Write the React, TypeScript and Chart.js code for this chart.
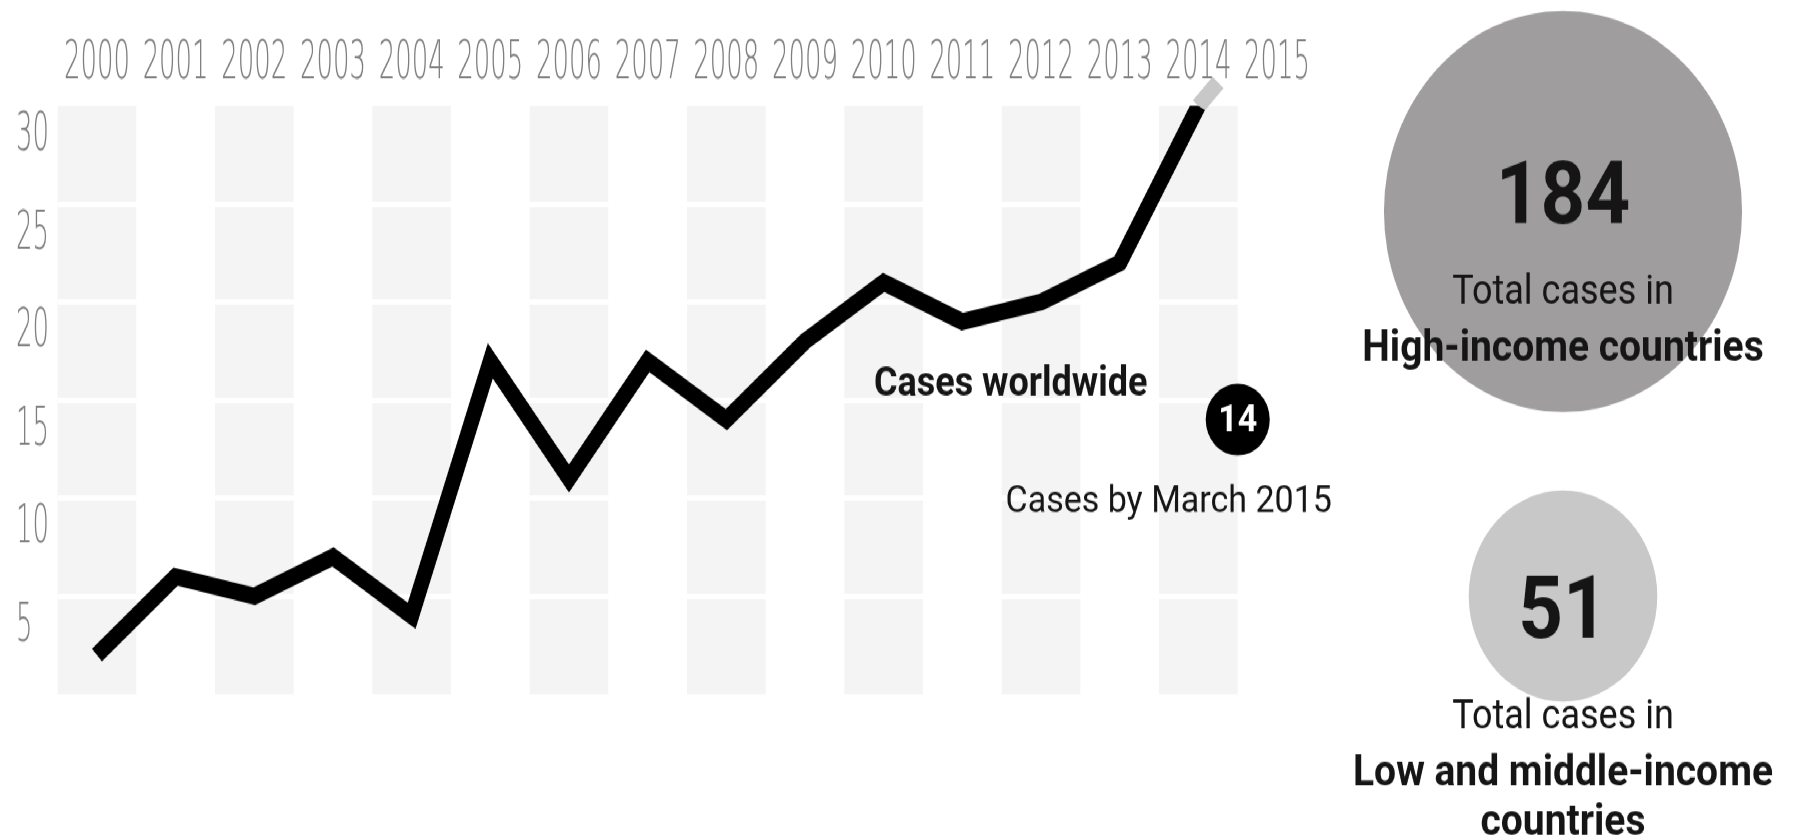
import { useEffect, useRef } from 'react';
import { Chart, registerables } from 'chart.js';

Chart.register(...registerables);

// ---------- data ----------
const years = [2000, 2001, 2002, 2003, 2004, 2005, 2006, 2007, 2008, 2009, 2010, 2011, 2012, 2013, 2014];
const casesWorldwide = [2, 6, 5, 7, 4, 17, 11, 17, 14, 18, 21, 19, 20, 22, 30];
const partialYears = [2014, 2014.25];
const partialCases = [30, 31.2];
const marchYears = [2014.5];
const marchCases = [14];
const xTickLabels = ['2000', '2001', '2002', '2003', '2004', '2005', '2006', '2007', '2008', '2009', '2010', '2011', '2012', '2013', '2014', '2015'];
const yTickLabels = ['5', '10', '15', '20', '25', '30'];
const incomeGroups = ['High-income countries', 'Low and middle-income countries'];
const incomeTotals = [184, 51];
const incomeCaptionLines = [['High-income countries'], ['Low and middle-income', 'countries']];
const annotationTop = 'Cases worldwide';
const annotationBottom = 'Cases by March 2015';
const captionLead = 'Total cases in';

// ---------- layout ----------
const FULL_H = 837;
const W = 1793;
const H = 747;
const STRETCH = FULL_H / H;
const SIDE_LEFT = 1333;
const SIDE_W = 460;
const TICK_FONT = "200 48px 'DejaVu Sans', sans-serif";
const TICK_SQUEEZE = 0.54;
const TICK_COLOR = '#7f7f7f';
const X_LABEL_BASELINE = 69.5;
const Y_LABEL_LEFT = 16;
const Y_LABEL_DROP = 39.5;
const TEXT_FAMILY = "Roboto, 'Noto Sans', sans-serif";

const bandsPlugin = {
  id: 'bands',
  beforeDraw(chart: any) {
    const { ctx, scales } = chart;
    const x = scales.x;
    const y = scales.y;
    const top = y.getPixelForValue(Number(yTickLabels[yTickLabels.length - 1]));
    const bottom = y.getPixelForValue(0);
    ctx.save();
    ctx.fillStyle = '#f4f4f4';
    years.forEach((yr, i) => {
      if (i % 2 === 0) {
        const l = x.getPixelForValue(yr - 0.5);
        const r = x.getPixelForValue(yr + 0.5);
        ctx.fillRect(l, top, r - l, bottom - top);
      }
    });
    ctx.restore();
  },
};

// tall, condensed tick labels positioned by the chart's own scales
const tickLabelPlugin = {
  id: 'tickLabels',
  beforeDatasetsDraw(chart: any) {
    const { ctx, scales } = chart;
    const x = scales.x;
    const y = scales.y;
    ctx.save();
    ctx.fillStyle = TICK_COLOR;
    ctx.font = TICK_FONT;
    ctx.textBaseline = 'alphabetic';
    xTickLabels.forEach((label) => {
      const px = x.getPixelForValue(Number(label));
      ctx.save();
      ctx.translate(px, X_LABEL_BASELINE);
      ctx.scale(TICK_SQUEEZE, 1);
      ctx.textAlign = 'center';
      ctx.fillText(label, 0, 0);
      ctx.restore();
    });
    yTickLabels.forEach((label) => {
      const py = y.getPixelForValue(Number(label)) + Y_LABEL_DROP;
      ctx.save();
      ctx.translate(Y_LABEL_LEFT, py);
      ctx.scale(TICK_SQUEEZE, 1);
      ctx.textAlign = 'left';
      ctx.fillText(label, 0, 0);
      ctx.restore();
    });
    ctx.restore();
  },
};

const annotationPlugin = {
  id: 'annotations',
  afterDatasetsDraw(chart: any) {
    const { ctx } = chart;
    const el = chart.getDatasetMeta(2).data[0];
    if (!el) return;
    const px = el.x;
    const py = el.y;
    ctx.save();
    ctx.textAlign = 'center';
    ctx.textBaseline = 'middle';
    ctx.fillStyle = '#ffffff';
    ctx.font = `700 34px ${TEXT_FAMILY}`;
    ctx.fillText(String(marchCases[0]), px, py + 2);
    ctx.fillStyle = '#151515';
    ctx.font = `700 36px ${TEXT_FAMILY}`;
    ctx.fillText(annotationTop, px - 227, py - 31);
    ctx.font = `400 34px ${TEXT_FAMILY}`;
    ctx.fillText(annotationBottom, px - 69, py + 74);
    ctx.restore();
  },
};

const numberDy = [-9, 18];
const captionDy = [73, 109];
const sideTextPlugin = {
  id: 'sideText',
  afterDatasetsDraw(chart: any) {
    const { ctx } = chart;
    const meta = chart.getDatasetMeta(0);
    ctx.save();
    ctx.textAlign = 'center';
    ctx.textBaseline = 'middle';
    ctx.fillStyle = '#151515';
    meta.data.forEach((el: any, i: number) => {
      const cx = el.x;
      const cy = el.y;
      ctx.font = `700 78px ${TEXT_FAMILY}`;
      ctx.fillText(String(incomeTotals[i]), cx, cy + numberDy[i]);
      ctx.font = `400 36px ${TEXT_FAMILY}`;
      ctx.fillText(captionLead, cx, cy + captionDy[i]);
      ctx.font = `700 39px ${TEXT_FAMILY}`;
      incomeCaptionLines[i].forEach((line, j) => {
        ctx.fillText(line, cx, cy + captionDy[i] + 50 + j * 44);
      });
    });
    ctx.restore();
  },
};

export default function App() {
  const mainRef = useRef<HTMLCanvasElement>(null);
  const sideRef = useRef<HTMLCanvasElement>(null);

  useEffect(() => {
    document.body.style.margin = '0';

    const main = new Chart(mainRef.current as HTMLCanvasElement, {
      type: 'line',
      data: {
        datasets: [
          {
            label: annotationTop,
            data: years.map((yr, i) => ({ x: yr, y: casesWorldwide[i] })),
            borderColor: '#000000',
            borderWidth: 15,
            pointRadius: 0,
            borderJoinStyle: 'miter',
            borderCapStyle: 'butt',
            tension: 0,
            order: 1,
          },
          {
            label: 'partial',
            data: partialYears.map((yr, i) => ({ x: yr, y: partialCases[i] })),
            borderColor: '#c8c8c8',
            borderWidth: 15,
            pointRadius: 0,
            borderCapStyle: 'butt',
            clip: false,
            order: 2,
          },
          {
            label: annotationBottom,
            data: marchYears.map((yr, i) => ({ x: yr, y: marchCases[i] })),
            showLine: false,
            pointRadius: 32,
            pointBackgroundColor: '#000000',
            pointBorderWidth: 0,
            clip: false,
            order: 0,
          },
        ],
      } as any,
      options: {
        responsive: false,
        animation: false,
        events: [],
        layout: { autoPadding: false, padding: { left: 0, right: W - 1316.4, top: 0, bottom: H - 619.6 } },
        plugins: { legend: { display: false }, tooltip: { enabled: false } },
        scales: {
          x: {
            type: 'linear',
            position: 'top',
            min: 1999.5,
            max: 2015.5,
            afterBuildTicks: (s: any) => {
              s.ticks = xTickLabels.map((l) => ({ value: Number(l) }));
            },
            afterFit: (s: any) => {
              s.height = 94.6;
            },
            grid: { display: false, drawTicks: false },
            border: { display: false },
            ticks: { display: false },
          },
          y: {
            type: 'linear',
            min: 0,
            max: 30,
            afterBuildTicks: (s: any) => {
              s.ticks = yTickLabels.map((l) => ({ value: Number(l) }));
            },
            afterFit: (s: any) => {
              s.width = 57.6;
            },
            grid: {
              drawTicks: false,
              lineWidth: 5,
              color: (ctx: any) => (ctx.tick && ctx.tick.value === 30 ? 'rgba(0,0,0,0)' : '#ffffff'),
            },
            border: { display: false },
            ticks: { display: false },
          },
        },
      } as any,
      plugins: [bandsPlugin, tickLabelPlugin, annotationPlugin],
    });

    const side = new Chart(sideRef.current as HTMLCanvasElement, {
      type: 'bubble',
      data: {
        labels: incomeGroups,
        datasets: [
          {
            label: 'Total cases',
            data: incomeTotals.map((v, i) => ({ x: 0, y: i, r: 13.2 * Math.sqrt(v) })),
            backgroundColor: ['#9f9d9e', '#c8c8c8'],
            borderWidth: 0,
            clip: false,
          },
        ],
      } as any,
      options: {
        responsive: false,
        animation: false,
        events: [],
        layout: { autoPadding: false, padding: 0 },
        plugins: { legend: { display: false }, tooltip: { enabled: false } },
        scales: {
          x: { display: false, min: -1, max: 1 },
          y: { display: false, reverse: true, min: -0.5501, max: 1.6265 },
        },
      } as any,
      plugins: [sideTextPlugin],
    });

    return () => {
      main.destroy();
      side.destroy();
    };
  }, []);

  return (
    <div style={{ position: 'relative', width: W, height: FULL_H, overflow: 'hidden', background: '#ffffff' }}>
      <div
        style={{
          position: 'absolute',
          left: 0,
          top: 0,
          width: W,
          height: H,
          transform: `scaleY(${STRETCH})`,
          transformOrigin: '0 0',
        }}
      >
        <canvas ref={mainRef} width={W} height={H} style={{ position: 'absolute', left: 0, top: 0 }} />
        <canvas ref={sideRef} width={SIDE_W} height={H} style={{ position: 'absolute', left: SIDE_LEFT, top: 0 }} />
      </div>
    </div>
  );
}
